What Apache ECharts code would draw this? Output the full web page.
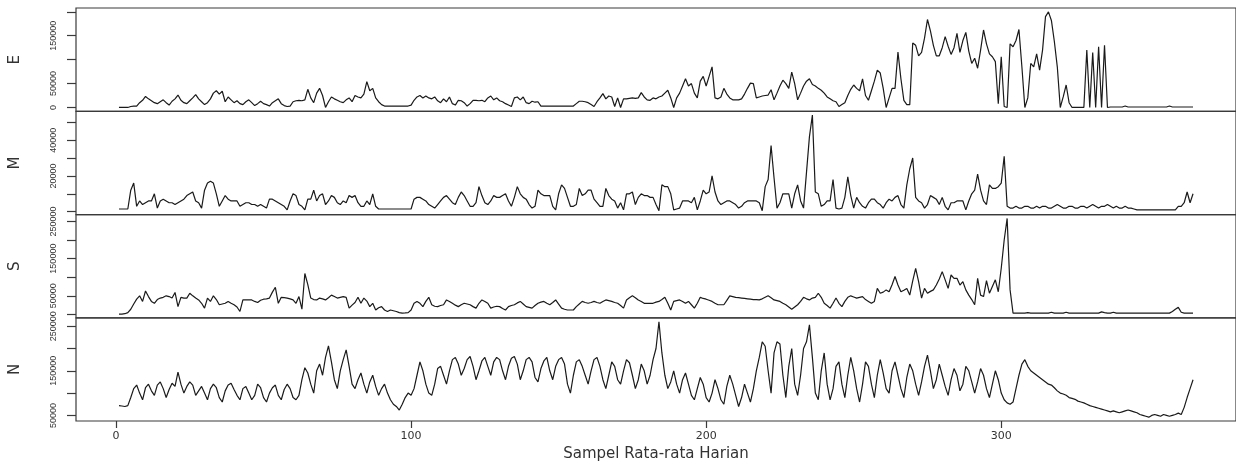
<!DOCTYPE html>
<html>
<head>
<meta charset="utf-8">
<script src="https://cdn.jsdelivr.net/npm/echarts@6/dist/echarts.min.js"></script>
<style>
  html, body { margin: 0; padding: 0; background: #ffffff; }
  #chart { width: 1236px; height: 463px; }
</style>
</head>
<body>
<div id="chart"></div>
<script>
// Daily averages per region, in thousands (day 1 .. 365)
const seriesE = [
  0,0,0,0,2,3,3,10,15,23,
  18,14,10,8,12,16,10,5,13,18,
  26,15,10,8,14,20,27,18,12,6,
  10,18,30,35,28,34,12,22,16,10,
  14,8,6,12,16,10,4,8,13,8,
  6,3,10,14,18,8,4,2,3,12,
  14,15,14,16,38,20,10,30,40,25,
  0,12,22,18,15,12,10,16,20,12,
  25,22,20,28,54,35,40,20,12,6,
  3,3,3,3,3,3,3,3,3,5,
  15,22,25,20,24,20,18,22,14,10,
  18,12,22,8,5,15,14,10,3,8,
  15,15,14,15,12,20,24,16,20,14,
  12,8,5,2,20,22,16,22,10,8,
  13,11,12,3,3,3,3,3,3,3,
  3,3,3,3,3,8,13,13,12,10,
  6,2,12,20,29,18,24,22,2,20,
  0,18,18,19,20,19,20,31,22,16,
  15,20,18,22,24,30,36,20,0,20,
  30,45,60,45,50,30,20,55,65,45,
  65,85,20,18,22,40,28,20,16,16,
  16,18,28,40,51,50,20,22,24,25,
  26,37,16,30,45,57,50,40,74,50,
  16,30,45,55,60,48,45,40,36,30,
  22,18,14,12,2,6,10,25,38,47,
  40,35,60,25,15,35,55,78,72,40,
  0,20,40,40,116,60,15,6,6,135,
  130,108,115,145,184,160,130,108,108,125,
  148,128,111,125,155,115,140,157,118,92,
  103,82,120,162,133,112,106,96,8,106,
  2,0,133,127,140,163,85,0,20,92,
  85,112,78,120,190,200,182,138,85,0,
  22,47,10,0,0,0,0,0,120,0,
  115,0,127,0,130,0,1,1,1,1,
  1,3,1,1,1,1,1,1,1,1,
  1,1,1,1,1,1,3,1,1,1,
  1,1,1,1,1
];

const seriesM = [
  1.5,1.5,1.5,1.5,12,16,3,6,4,5,
  6,6,10,2,6,7,6,5,5,4,
  5,6,7,9,10,11,6,5,2,12,
  16,17,16,10,3,6,9,7,6,6,
  6,3,4,5,5,4,4,3,4,3,
  2,7,7,6,5,4,3,1,6,10,
  9,4,3,1,7,7,12,6,9,10,
  4,6,9,8,5,4,6,5,9,8,
  9,5,3,3,6,4,10,3,1.5,1.5,
  1.5,1.5,1.5,1.5,1.5,1.5,1.5,1.5,1.5,1.5,
  7,8,8,7,6,4,3,2,4,6,
  8,9,7,5,4,8,11,9,6,3,
  3,5,14,9,5,4,6,9,8,8,
  9,10,6,3,8,14,10,8,7,4,
  2,3,12,10,9,9,9,3,1,10,
  15,13,8,3,3,4,13,9,10,12,
  12,7,5,3,3,13,9,7,6,2,
  5,1,10,10,11,4,8,10,9,9,
  8,8,4,0.5,15,14,14,10,1,1.5,
  2,6,6,6,5,8,1,6,12,10,
  11,20,11,6,4,5,6,6,5,4,
  2,3,5,6,6,6,6,5,0.5,14,
  18,37,19,2,5,10,10,10,2,10,
  15,6,2,22,42,54,11,10,3,4,
  6,6,18,2,1.5,2,8,19.5,9,2,
  8,5,3,2,5,7,7,5,4,2,
  5,7,6,8,9,4,2,15,24,30,
  8,6,5,2,4,9,8,7,4,8,
  3,1,5,5,6,6,6,1,6,10,
  12,21,12,6,4,15,13,13,14,16,
  31,3,2,2,3,2,2,3,3,2,
  2,3,2,3,3,2,2,3,4,3,
  2,2,3,3,2,2,3,3,2,3,
  4,3,2,3,3,4,3,2,3,2,
  2,3,2,2,1.5,1,1,1,1,1,
  1,1,1,1,1,1,1,1,1,3,
  3,5,11,5,10
];

const seriesS = [
  1,1,2,5,14,28,41,50,35,63,
  48,35,30,40,44,46,50,48,44,59,
  21,46,44,44,57,50,44,39,30,17,
  44,35,50,40,26,28,30,35,30,26,
  20,8,39,39,39,39,35,32,38,41,
  42,44,60,73,30,46,45,44,42,39,
  30,48,14,110,80,44,40,39,44,42,
  39,45,52,48,44,46,48,46,17,25,
  32,46,30,44,36,21,30,12,18,21,
  12,8,12,10,8,5,3.5,4,5,12,
  30,35,30,21,35,46,26,22,21,24,
  26,39,35,30,25,21,26,30,28,26,
  21,17,30,39,35,30,17,20,22,21,
  16,12,21,24,26,31,35,28,21,19,
  17,24,30,33,35,30,26,32,39,28,
  17,14,12,12,12,21,28,35,32,30,
  32,35,32,30,35,39,37,35,32,30,
  24,17,39,45,50,45,39,35,30,30,
  30,30,33,35,40,46,30,12,35,37,
  39,35,30,35,26,17,30,46,43,41,
  38,35,30,26,26,26,38,50,48,46,
  45,44,43,42,41,40,40,39,42,46,
  50,45,39,37,35,30,26,20,14,20,
  26,35,46,42,39,44,46,57,46,30,
  24,17,30,44,30,21,35,46,50,47,
  44,46,48,40,35,30,35,70,57,60,
  66,61,80,102,79,61,65,70,52,90,
  124,88,44,70,57,62,66,79,95,115,
  93,70,106,97,97,79,88,66,52,40,
  26,97,52,48,91,57,75,93,61,124,
  200,258,66,3.5,3.5,3.5,3.5,3.5,5,3.5,
  3.5,3.5,3.5,3.5,3.5,3.5,6,3.5,3.5,3.5,
  3.5,6,3.5,3.5,3.5,3.5,3.5,3.5,3.5,3.5,
  3.5,3.5,3.5,7,5,3.5,3.5,6,3.5,3.5,
  3.5,3.5,3.5,3.5,3.5,3.5,3.5,3.5,3.5,3.5,
  3.5,3.5,3.5,3.5,3.5,3.5,3.5,8,14,19,
  6,3.5,3.5,3.5,3.5
];

const seriesN = [
  72,71,70,72,90,110,118,100,85,112,
  120,105,95,118,125,110,90,108,122,115,
  147,120,100,115,125,118,95,105,115,100,
  85,110,120,112,90,80,105,118,122,108,
  95,85,110,115,100,85,95,120,112,90,
  80,100,112,118,95,85,108,120,110,90,
  85,95,130,157,145,120,100,150,165,140,
  180,206,170,130,110,150,175,197,160,120,
  110,130,145,120,100,125,140,115,95,110,
  120,100,85,75,70,62,75,90,100,95,
  110,140,170,150,120,100,95,120,155,160,
  140,120,150,175,180,165,140,155,175,182,
  160,130,150,172,180,160,140,170,180,175,
  150,130,160,178,182,165,130,150,175,180,
  170,135,125,155,172,180,150,130,160,175,
  180,165,120,100,140,170,175,160,140,120,
  150,175,180,160,130,110,140,170,160,130,
  120,150,175,168,140,110,130,165,150,120,
  140,175,200,260,190,140,110,125,150,120,
  100,130,145,120,95,85,110,135,120,90,
  80,100,130,110,85,75,115,140,120,95,
  70,90,120,100,80,110,150,180,215,205,
  150,100,190,215,210,140,90,160,200,120,
  95,140,200,215,253,180,100,85,150,190,
  120,85,110,160,170,120,90,140,180,150,
  110,80,120,170,160,120,90,140,175,145,
  110,100,150,170,140,110,90,135,165,150,
  120,95,125,160,185,150,110,130,165,140,
  115,95,130,155,140,105,120,160,150,125,
  100,125,155,140,110,90,120,150,130,100,
  85,78,75,80,110,140,165,175,160,150,
  145,140,135,130,125,120,118,112,105,100,
  98,95,90,88,86,82,80,78,75,72,
  70,68,66,64,62,60,58,60,58,56,
  58,60,62,60,58,56,52,50,48,46,
  50,52,50,48,52,50,48,50,52,55,
  52,68,90,110,130
];

const panelNames = ['E', 'M', 'S', 'N'];
const panelSeries = [seriesE, seriesM, seriesS, seriesN];

// tick marks and the labels kept on each vertical axis
const yTickValues = [
  [0, 50000, 100000, 150000, 200000],
  [0, 10000, 20000, 30000, 40000, 50000],
  [0, 50000, 100000, 150000, 200000, 250000],
  [50000, 100000, 150000, 200000, 250000]
];
const yTickLabels = [
  [0, 50000, 150000],
  [20000, 40000],
  [50000, 150000, 250000],
  [50000, 150000, 250000]
];
const xTickValues = [0, 100, 200, 300];
const xTitle = 'Sampel Rata-rata Harian';

// ---- layout ----
const PLOT_LEFT = 76, PLOT_WIDTH = 1164, PLOT_TOP = 8, PANEL_H = 103.3;
const INK = '#1a1a1a', FRAME = '#3a3a3a', TEXT = '#333333';

// padded ranges, 4% on each side of the data span
function padded(lo, hi) {
  const d = (hi - lo) * 0.04;
  return [lo - d, hi + d];
}
const nDays = seriesE.length;
const [xMin, xMax] = padded(1, nDays);

const grids = [], xAxes = [], yAxes = [], series = [];
panelSeries.forEach((vals, i) => {
  const data = vals.map((v, k) => [k + 1, v * 1000]);
  const ys = data.map(d => d[1]);
  const [yMin, yMax] = padded(Math.min(...ys), Math.max(...ys));
  const last = i === panelSeries.length - 1;

  grids.push({
    left: PLOT_LEFT, top: PLOT_TOP + i * PANEL_H, width: PLOT_WIDTH, height: PANEL_H,
    show: true, borderColor: FRAME, borderWidth: 1.2, backgroundColor: 'transparent'
  });

  xAxes.push({
    type: 'value', gridIndex: i, min: xMin, max: xMax, position: 'bottom',
    axisLine: { show: false, onZero: false },
    splitLine: { show: false },
    axisTick: {
      show: last, length: 7, inside: false, customValues: xTickValues,
      lineStyle: { color: FRAME, width: 1.2 }
    },
    axisLabel: {
      show: last, customValues: xTickValues, margin: 10,
      fontFamily: 'DejaVu Sans', fontSize: 11, color: TEXT,
      formatter: v => String(v)
    },
    name: last ? xTitle : '',
    nameLocation: 'middle', nameGap: 26,
    nameTextStyle: { fontFamily: 'DejaVu Sans', fontSize: 15, color: TEXT }
  });

  yAxes.push({
    type: 'value', gridIndex: i, min: yMin, max: yMax, position: 'left',
    axisLine: { show: false, onZero: false },
    splitLine: { show: false },
    axisTick: {
      show: true, length: 9, inside: false, customValues: yTickValues[i],
      lineStyle: { color: FRAME, width: 1.2 }
    },
    axisLabel: {
      show: true, customValues: yTickLabels[i], rotate: 90, margin: 18,
      fontFamily: 'Liberation Sans', fontSize: 9, color: TEXT,
      formatter: v => String(Math.round(v))
    },
    name: panelNames[i],
    nameLocation: 'middle', nameRotate: 90, nameGap: 53,
    nameTextStyle: { fontFamily: 'DejaVu Sans', fontSize: 15, color: TEXT }
  });

  series.push({
    type: 'line', name: panelNames[i], xAxisIndex: i, yAxisIndex: i,
    data: data, showSymbol: false, symbol: 'none',
    lineStyle: { color: INK, width: 1.2 },
    emphasis: { disabled: true }
  });
});

const chart = echarts.init(document.getElementById('chart'), null, { renderer: 'canvas' });
chart.setOption({
  animation: false,
  backgroundColor: '#ffffff',
  grid: grids,
  xAxis: xAxes,
  yAxis: yAxes,
  series: series
});
</script>
</body>
</html>
